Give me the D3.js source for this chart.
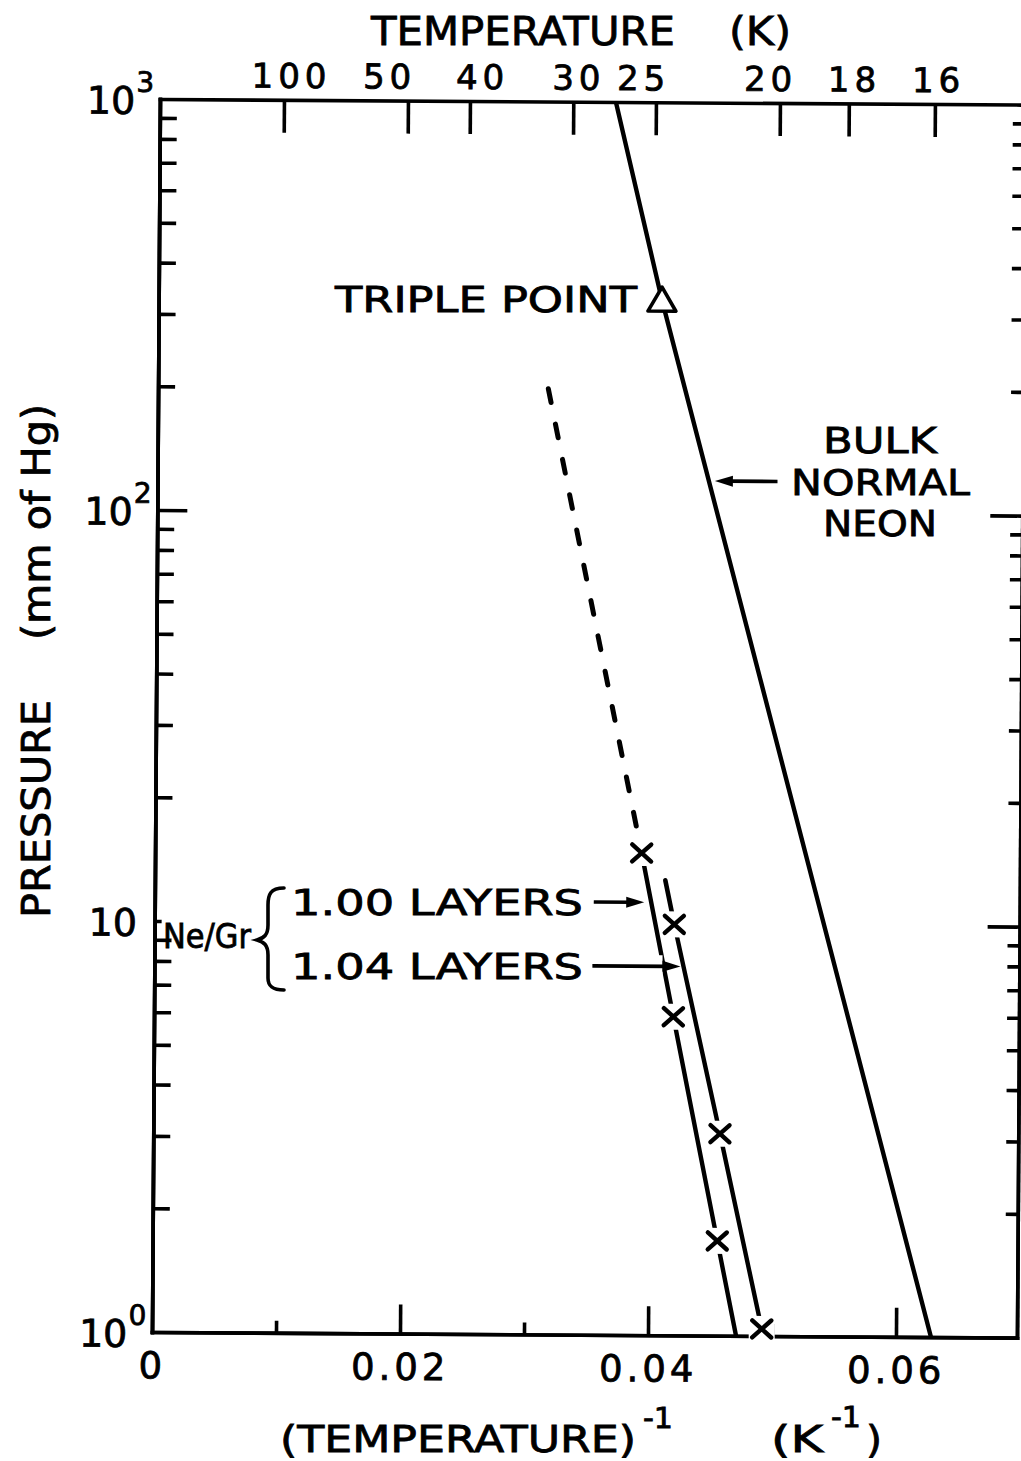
<!DOCTYPE html>
<html>
<head>
<meta charset="utf-8">
<script src="https://cdn.jsdelivr.net/npm/d3@7"></script>
<style>
  body { margin: 0; background: #fff; }
  text { font-family: "DejaVu Sans", sans-serif; fill: #000; stroke: #000; stroke-width: 0.8px; }
</style>
</head>
<body>
<svg id="chart" width="1021" height="1461"></svg>
<script>
// ---- data ---------------------------------------------------------------
// x = reciprocal temperature (1/K), y = pressure (mm of Hg)
const invTempMajorTicks = [0, 0.02, 0.04, 0.06];
const invTempMajorLabels = ["0", "0.02", "0.04", "0.06"];
const invTempMinorTicks = [0.01, 0.03, 0.05];
const tempTicks = [100, 50, 40, 30, 25, 20, 18, 16];          // K, top axis
const pressureDecades = [1, 10, 100, 1000];
const decadeExponents = ["0", "", "2", "3"];

// bulk normal neon vapour-pressure curve [1/T, P]
const bulkNeonInvT = [0.03677, 0.04059, 0.06282];
const bulkNeonP    = [1000,    330,     1];
const triplePoint  = [0.04059, 330];

// Ne on graphite, 1.00 layers: measured points, then line to P = 1
const layer100InvT = [0.03924, 0.04188, 0.04554, 0.04710];
const layer100P    = [14.9,    5.96,    1.70,    1];
const layer100Pts  = 3;                                        // first 3 are measured
// dashed extrapolation above the first 1.00-layer point
const layer100ExtInvT = [0.03147, 0.03924];
const layer100ExtP    = [200,     14.9];

// Ne on graphite, 1.04 layers
const layer104InvT = [0.04191, 0.04570, 0.04917];
const layer104P    = [10.0,    3.10,    1.04];
const layer104ExtInvT = [0.04116, 0.04191];
const layer104ExtP    = [12.8,    10.0];

// ---- layout -------------------------------------------------------------
const svg = d3.select("#chart");
const plotL = 152, plotR = 1017, plotT = 99, plotB = 1332;
const x = d3.scaleLinear().domain([0, 0.06976]).range([plotL, plotR]);
const y = d3.scaleLog().domain([1, 1000]).range([plotB, plotT]);

// the whole sheet sits slightly turned
const g = svg.append("g").attr("transform", `rotate(0.37, ${plotL}, ${plotB})`);

const minorP = [];
pressureDecades.slice(0, 3).forEach(d => { for (let k = 2; k <= 9; k++) minorP.push(d * k); });

const AX = 3.6;
function styleAxis(sel) {
  sel.selectAll("path.domain").attr("stroke", "#000").attr("stroke-width", AX).attr("stroke-linecap", "square");
  sel.selectAll(".tick line").attr("stroke", "#000").attr("stroke-width", AX);
}

// left axis (the tick at 10 is kept short, the Ne/Gr label sits there)
g.append("g").attr("transform", `translate(${plotL},0)`)
  .call(d3.axisLeft(y).tickValues(minorP).tickSize(-17).tickSizeOuter(0).tickFormat(""))
  .call(styleAxis);
g.append("g").attr("transform", `translate(${plotL},0)`)
  .call(d3.axisLeft(y).tickValues([100]).tickSize(-30).tickSizeOuter(0).tickFormat(""))
  .call(styleAxis);
g.append("g").attr("transform", `translate(${plotL},0)`)
  .call(d3.axisLeft(y).tickValues([10]).tickSize(-7).tickSizeOuter(0).tickFormat(""))
  .call(styleAxis);
// right axis
g.append("g").attr("transform", `translate(${plotR},0)`)
  .call(d3.axisRight(y).tickValues(minorP).tickSize(-12).tickSizeOuter(0).tickFormat(""))
  .call(styleAxis);
g.append("g").attr("transform", `translate(${plotR},0)`)
  .call(d3.axisRight(y).tickValues([10, 100]).tickSize(-32).tickSizeOuter(0).tickFormat(""))
  .call(styleAxis);

// bottom axis
const bottomAxis = g.append("g").attr("transform", `translate(0,${plotB})`)
  .call(d3.axisBottom(x).tickValues(invTempMajorTicks).tickSize(-29).tickSizeOuter(0).tickPadding(20)
    .tickFormat((d, i) => invTempMajorLabels[i]))
  .call(styleAxis);
bottomAxis.selectAll(".tick").filter(d => d === 0).select("line").remove();
bottomAxis.selectAll(".tick text").attr("font-size", 37).attr("letter-spacing", 4)
  .attr("font-family", "DejaVu Sans");
g.append("g").attr("transform", `translate(0,${plotB})`)
  .call(d3.axisBottom(x).tickValues(invTempMinorTicks).tickSize(-12).tickSizeOuter(0).tickFormat(""))
  .call(styleAxis);

// top axis: temperature
const tempNudge = {100: 7, 50: -19, 40: 12, 30: 5, 25: -13, 20: -10, 18: 5, 16: 3};
const topAxis = g.append("g").attr("transform", `translate(0,${plotT})`)
  .call(d3.axisTop(x).tickValues(tempTicks.map(t => 1 / t)).tickSize(-33).tickSizeOuter(0).tickPadding(12)
    .tickFormat((d, i) => String(tempTicks[i])))
  .call(styleAxis);
topAxis.selectAll(".tick text").attr("font-size", 34).attr("letter-spacing", 5)
  .attr("font-family", "DejaVu Sans")
  .attr("dx", (d, i) => tempNudge[tempTicks[i]]);

// decade labels on the pressure axis
pressureDecades.forEach((p, i) => {
  const t = g.append("text").attr("x", decadeExponents[i] ? 79 : 86).attr("y", y(p) + 15)
    .attr("font-size", 38);
  t.append("tspan").text("10");
  if (decadeExponents[i]) t.append("tspan").attr("dy", -22).attr("font-size", 28).attr("dx", 1).text(decadeExponents[i]);
});

// ---- curves --------------------------------------------------------------
const line = d3.line().x(d => x(d[0])).y(d => y(d[1]));
const zip = (a, b) => a.map((v, i) => [v, b[i]]);

g.append("path").datum(zip(bulkNeonInvT, bulkNeonP)).attr("d", line)
  .attr("fill", "none").attr("stroke", "#000").attr("stroke-width", 4.4);

g.append("path").datum(zip(layer100ExtInvT, layer100ExtP)).attr("d", line)
  .attr("fill", "none").attr("stroke", "#000").attr("stroke-width", 5)
  .attr("stroke-linecap", "round").attr("stroke-dasharray", "14 22");
g.append("path").datum(zip(layer104ExtInvT, layer104ExtP)).attr("d", line)
  .attr("fill", "none").attr("stroke", "#000").attr("stroke-width", 4.6).attr("stroke-linecap", "round");

g.append("path").datum(zip(layer100InvT, layer100P)).attr("d", line)
  .attr("fill", "none").attr("stroke", "#000").attr("stroke-width", 4.4);
g.append("path").datum(zip(layer104InvT, layer104P)).attr("d", line)
  .attr("fill", "none").attr("stroke", "#000").attr("stroke-width", 4.4);

// measured points: open crosses with a clear margin round them
const pts = zip(layer100InvT, layer100P).slice(0, layer100Pts).concat(zip(layer104InvT, layer104P));
const marks = g.append("g").selectAll("g").data(pts).join("g")
  .attr("transform", d => `translate(${x(d[0])},${y(d[1])})`);
marks.append("rect").attr("x", -13).attr("y", -13).attr("width", 26).attr("height", 26).attr("fill", "#fff");
marks.append("path").attr("d", "M-9.5,-8.5L9.5,8.5M-9.5,8.5L9.5,-8.5")
  .attr("stroke", "#000").attr("stroke-width", 4.4).attr("stroke-linecap", "round");

// triple point triangle
g.append("path")
  .attr("transform", `translate(${x(triplePoint[0])},${y(triplePoint[1])})`)
  .attr("d", "M0,-13L14,11L-14,11Z")
  .attr("fill", "#fff").attr("stroke", "#000").attr("stroke-width", 3.6).attr("stroke-linejoin", "round");

// ---- pointer arrows --------------------------------------------------------
function xAt(invT, P, p) {            // 1/T on a polyline at pressure p (log interpolation)
  for (let i = 0; i < P.length - 1; i++) {
    const a = Math.log(P[i]), b = Math.log(P[i + 1]), l = Math.log(p);
    if ((l - a) * (l - b) <= 0) return invT[i] + (invT[i + 1] - invT[i]) * (l - a) / (b - a);
  }
  return invT[0];
}
function arrow(x0, x1, yy, halo) {
  const dir = Math.sign(x1 - x0);
  if (halo) g.append("line").attr("x1", x0 + 30).attr("x2", x1 - dir * 18).attr("y1", yy).attr("y2", yy)
    .attr("stroke", "#fff").attr("stroke-width", 22);
  g.append("line").attr("x1", x0).attr("x2", x1 - dir * 14).attr("y1", yy).attr("y2", yy)
    .attr("stroke", "#000").attr("stroke-width", 3.6);
  g.append("path").attr("d", `M${x1},${yy}L${x1 - dir * 18},${yy - 5.5}L${x1 - dir * 18},${yy + 5.5}Z`).attr("fill", "#000");
}
const pArrow100 = 11.3, pArrow104 = 7.9, pArrowBulk = 120;
arrow(591, x(xAt(layer100InvT, layer100P, pArrow100)) - 7, y(pArrow100), false);
arrow(590, x(xAt(layer104InvT, layer104P, pArrow104)) - 3, y(pArrow104), true);
arrow(772, x(xAt(bulkNeonInvT, bulkNeonP, pArrowBulk)) + 6, y(pArrowBulk), false);

// ---- annotation text -------------------------------------------------------
function label(txt, xx, yy, size, len, anchor) {
  return svg.append("text").attr("x", xx).attr("y", yy).attr("font-size", size)
    .attr("text-anchor", anchor || "start")
    .attr("textLength", len).attr("lengthAdjust", "spacingAndGlyphs").text(txt);
}
label("TRIPLE POINT", 335, 312, 36, 302);
label("BULK", 823, 453, 36, 114);
label("NORMAL", 791, 495, 36, 179);
label("NEON", 823, 536, 36, 114);
label("1.00 LAYERS", 291, 915, 36, 292);
label("1.04 LAYERS", 291, 979, 36, 292);
label("Ne/Gr", 163, 948, 33, 88);
// brace grouping the two layer labels
svg.append("path")
  .attr("d", "M284,888 C270,888 268,895 268,905 L268,925 C268,935 264,938 257,940 C264,942 268,945 268,955 L268,978 C268,986 272,990 284,990")
  .attr("fill", "none").attr("stroke", "#000").attr("stroke-width", 3.6).attr("stroke-linecap", "round");

// axis titles
label("TEMPERATURE", 371, 45, 39, 304);
label("(K)", 729, 45, 39, 62);
label("(TEMPERATURE)", 280, 1452, 38, 356);
label("-1", 643, 1428, 28, 30);
label("(K", 771, 1452, 38, 52);
label("-1", 831, 1427, 28, 30);
label(")", 866, 1452, 38, 16);
svg.append("text").attr("transform", "translate(50,918) rotate(-90)").attr("font-size", 39)
  .attr("textLength", 218).attr("lengthAdjust", "spacingAndGlyphs").text("PRESSURE");
svg.append("text").attr("transform", "translate(50,640) rotate(-90)").attr("font-size", 39)
  .attr("textLength", 236).attr("lengthAdjust", "spacingAndGlyphs").text("(mm of Hg)");
</script>
</body>
</html>
